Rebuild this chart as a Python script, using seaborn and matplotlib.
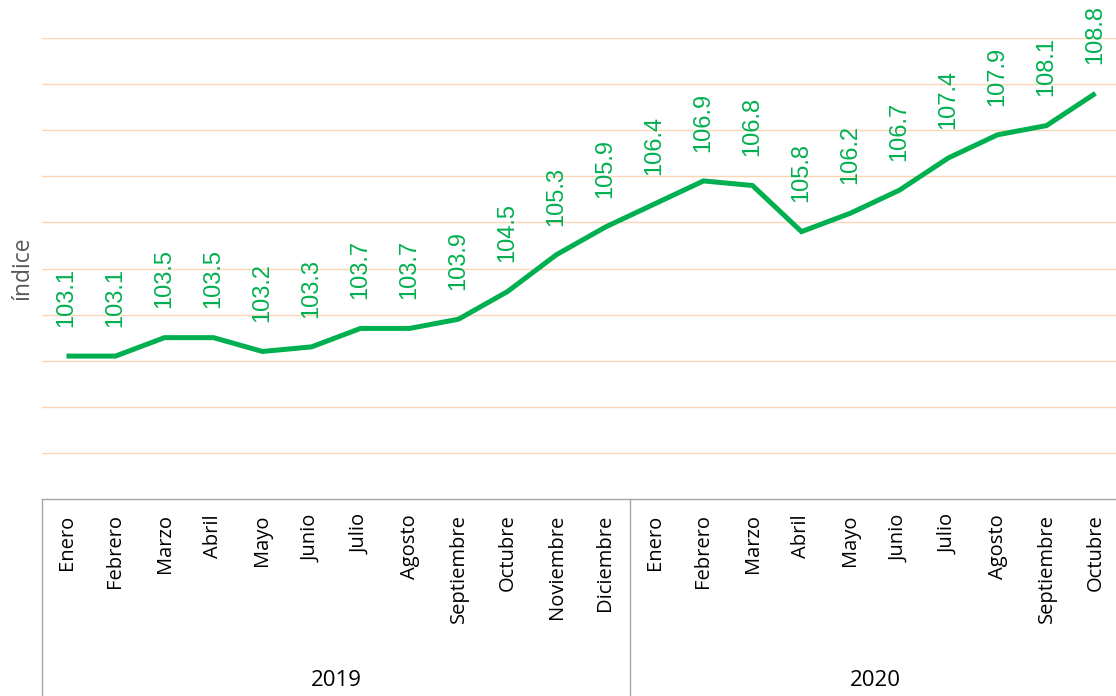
import matplotlib
matplotlib.use("Agg")
import matplotlib.pyplot as plt
import matplotlib.transforms as mtransforms
import pandas as pd
import seaborn as sns

# Monthly index values, January 2019 – October 2020
months_2019 = ["Enero", "Febrero", "Marzo", "Abril", "Mayo", "Junio", "Julio",
               "Agosto", "Septiembre", "Octubre", "Noviembre", "Diciembre"]
months_2020 = ["Enero", "Febrero", "Marzo", "Abril", "Mayo", "Junio", "Julio",
               "Agosto", "Septiembre", "Octubre"]
years = ["2019", "2020"]
values = [103.1, 103.1, 103.5, 103.5, 103.2, 103.3, 103.7, 103.7, 103.9, 104.5,
          105.3, 105.9, 106.4, 106.9, 106.8, 105.8, 106.2, 106.7, 107.4, 107.9,
          108.1, 108.8]
y_ticks = [101, 102, 103, 104, 105, 106, 107, 108, 109, 110]

month_labels = months_2019 + months_2020
df = pd.DataFrame({"pos": range(len(values)), "valor": values, "mes": month_labels})

sns.set_style("white")
plt.rcParams["font.family"] = ["Open Sans", "DejaVu Sans"]

GREEN = "#00b050"
GRID = "#fbd5b5"
FRAME = "#a6a6a6"

fig = plt.figure(figsize=(11.16, 6.96), dpi=100)
W, H = 1116, 696
ax_left, ax_right, ax_top, ax_bottom = 42, 1120, 38, 499
ax = fig.add_axes([ax_left / W, (H - ax_bottom) / H,
                   (ax_right - ax_left) / W, (ax_bottom - ax_top) / H])

sns.lineplot(data=df, x="pos", y="valor", ax=ax, color=GREEN, linewidth=3.6,
             solid_capstyle="butt", solid_joinstyle="miter", zorder=3)

ax.set_xlim(-0.5, len(values) - 0.5)
ax.set_ylim(100, 110)

# horizontal gridlines, no y tick labels
ax.set_yticks(y_ticks)
ax.set_yticklabels([])
ax.yaxis.grid(True, color=GRID, linewidth=1.0)
ax.xaxis.grid(False)
ax.tick_params(axis="y", length=0)
for side in ["left", "right", "top"]:
    ax.spines[side].set_visible(False)
ax.spines["bottom"].set_color(FRAME)
ax.spines["bottom"].set_linewidth(1.0)

ax.set_ylabel("índice", fontsize=16.5, color="#595959", labelpad=2)
ax.set_xlabel("")

# month tick labels
ax.set_xticks(list(df["pos"]))
ax.set_xticklabels(month_labels, rotation=90, fontsize=14.5, color="#000000",
                   va="top", ha="center")
ax.tick_params(axis="x", length=0, pad=11)

# value labels above each point
for x, v in zip(df["pos"], df["valor"]):
    ax.annotate(f"{v:.1f}", xy=(x, v), xytext=(0, 21), textcoords="offset points",
                rotation=90, ha="center", va="bottom", fontsize=17, color=GREEN,
                family=["Liberation Sans", "DejaVu Sans"], annotation_clip=False)

# year grouping frame below the axis
trans = mtransforms.blended_transform_factory(ax.transData, ax.transAxes)
depth = -(H - ax_bottom) / (ax_bottom - ax_top)
bounds = [-0.5, len(months_2019) - 0.5]
for xb in bounds:
    ax.plot([xb, xb], [0, depth], transform=trans, color=FRAME, linewidth=1.0,
            clip_on=False)

group_edges = [(-0.5, len(months_2019) - 0.5),
               (len(months_2019) - 0.5, len(values) - 0.5)]
year_y = -(680 - ax_bottom) / (ax_bottom - ax_top)
for yr, (a, b) in zip(years, group_edges):
    ax.text((a + b) / 2, year_y, yr, transform=trans, ha="center", va="center",
            fontsize=16, color="#000000")

fig.savefig("out.png", dpi=100)
